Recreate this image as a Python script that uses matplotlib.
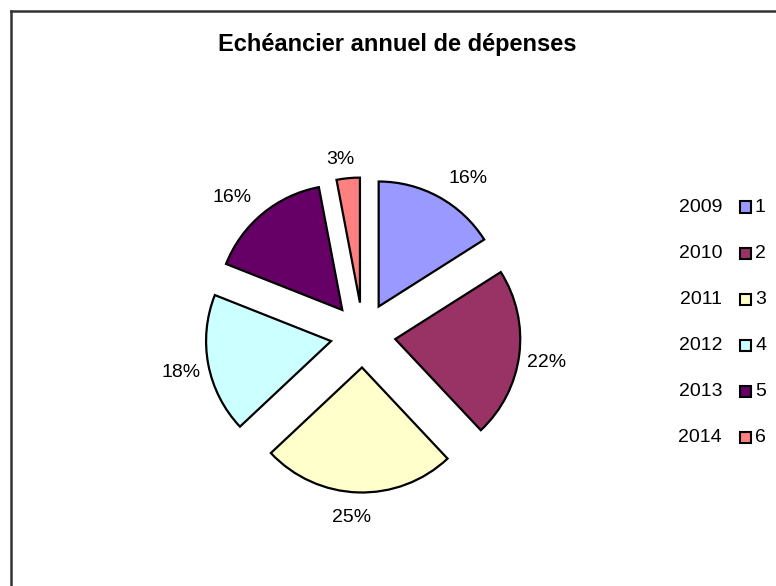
"""
Echéancier annuel de dépenses - camembert éclaté façon Excel
"""
import matplotlib
matplotlib.use("Agg")
import matplotlib.pyplot as plt
from matplotlib.patches import Rectangle
from matplotlib.lines import Line2D

plt.rcParams["font.family"] = ["Liberation Sans", "DejaVu Sans"]

# données
years = ["2009", "2010", "2011", "2012", "2013", "2014"]
series_ids = ["1", "2", "3", "4", "5", "6"]
parts = [16, 22, 25, 18, 16, 3]
colors = ["#9999FF", "#993366", "#FFFFCC", "#CCFFFF", "#660066", "#FF8080"]

W, H = 776, 586
fig = plt.figure(figsize=(W / 100, H / 100), dpi=100)

# cadre du graphique (bords haut et gauche seulement visibles)
fig.add_artist(Line2D([10.5 / W, 10.5 / W], [0, 1 - 10.5 / H], transform=fig.transFigure,
                      color="#333333", linewidth=1.8))
fig.add_artist(Line2D([10.5 / W, 775 / W], [1 - 10.5 / H, 1 - 10.5 / H], transform=fig.transFigure,
                      color="#333333", linewidth=1.8))

# axe du camembert : centre (363, 335) px, rayon 125 px
R_PX = 125
L = 1.6
size = 2 * L * R_PX
cx, cy = 363, 335
ax = fig.add_axes([(cx - size / 2) / W, (H - cy - size / 2) / H, size / W, size / H])

wedges, texts, autotexts = ax.pie(
    parts,
    colors=colors,
    explode=[0.26] * len(parts),
    startangle=90,
    counterclock=False,
    autopct="%.0f%%",
    pctdistance=1.22,
    wedgeprops={"edgecolor": "black", "linewidth": 1.6},
    textprops={"fontsize": 14, "color": "black"},
)

# petits décalages des étiquettes (px, vers la droite / vers le bas) comme le placement Excel
label_nudge = [(16, 6), (0, 4), (-6, -2), (0, 3), (-13, 5), (-5, 9)]
for t, (dx, dy) in zip(autotexts, label_nudge):
    x, y = t.get_position()
    t.set_position((x + dx / R_PX, y - dy / R_PX))

ax.set_xlim(-L, L)
ax.set_ylim(-L, L)
ax.set_aspect("equal")
ax.axis("off")

fig.text(397 / W, 1 - 44 / H, "Echéancier annuel de dépenses", ha="center", va="center",
         fontsize=17, fontweight="bold")

# légende
row_y = [207, 253, 299, 345, 391, 437]
for yr, sid, col, y in zip(years, series_ids, colors, row_y):
    yf = 1 - y / H
    fig.text(722 / W, yf, yr, ha="right", va="center", fontsize=14)
    fig.add_artist(Rectangle((739.5 / W, yf - 5.5 / H), 11 / W, 11 / H, transform=fig.transFigure,
                             facecolor=col, edgecolor="black", linewidth=1.5))
    fig.text(755 / W, yf, sid, ha="left", va="center", fontsize=14)

fig.savefig("out.png", dpi=100)
